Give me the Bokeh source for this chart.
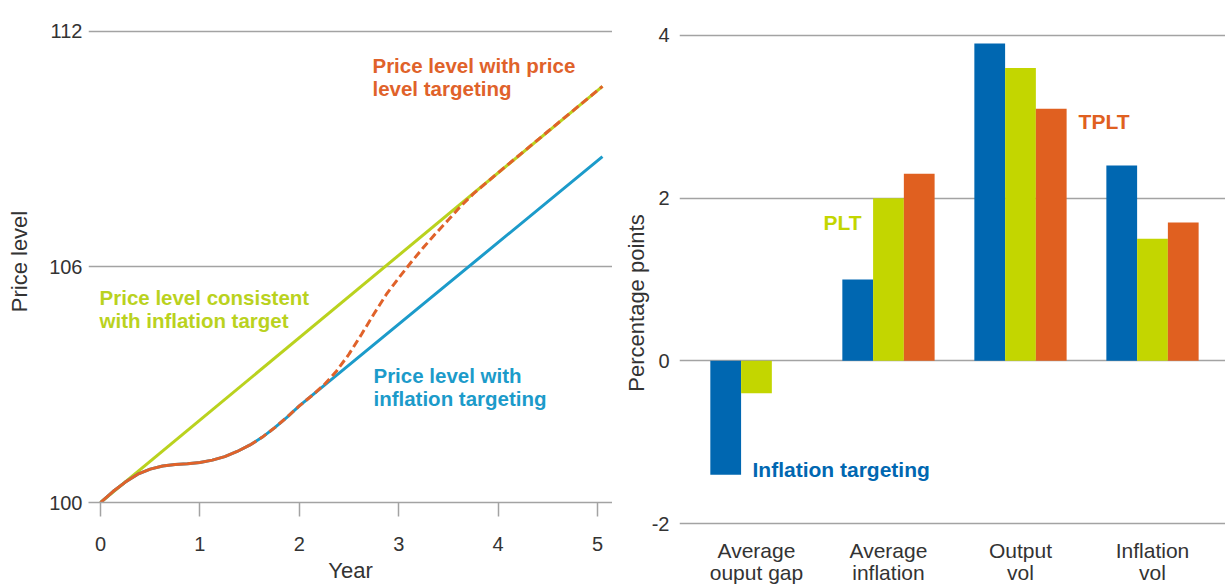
from bokeh.plotting import figure
from bokeh.layouts import row
from bokeh.models import FixedTicker, ColumnDataSource, Range1d
from bokeh.core.properties import value
from bokeh.embed import file_html
from bokeh.resources import INLINE

FONT = "Liberation Sans"

# ---------------- Left panel data ----------------
year_ticks = [0, 1, 2, 3, 4, 5]
price_ticks = [100, 106, 112]

# Price level consistent with inflation target
target_years = [0.0, 5.05]
target_price = [100.0, 110.6]

# Price level with inflation targeting
it_years = [0.0, 0.125, 0.25, 0.375, 0.5, 0.625, 0.75, 0.875, 1.0, 1.125, 1.25,
            1.375, 1.5, 1.625, 1.75, 1.875, 2.0, 5.05]
it_price = [100.0, 100.28, 100.52, 100.72, 100.85, 100.93, 100.97, 100.99, 101.02,
            101.08, 101.17, 101.3, 101.46, 101.66, 101.9, 102.17, 102.46, 108.81]

# Price level with price level targeting (solid part, then dashed part)
plt_years_solid = [0.0, 0.125, 0.25, 0.375, 0.5, 0.625, 0.75, 0.875, 1.0, 1.125, 1.25,
                   1.375, 1.5]
plt_price_solid = [100.0, 100.28, 100.52, 100.72, 100.85, 100.93, 100.97, 100.99, 101.02,
                   101.08, 101.17, 101.3, 101.46]
plt_years_dash = [1.5, 1.625, 1.75, 1.875, 2.0, 2.125, 2.25, 2.375, 2.5, 2.625, 2.75,
                  2.875, 3.0, 3.125, 3.25, 3.375, 3.5, 3.625, 3.75, 4.0, 4.5, 5.05]
plt_price_dash = [101.46, 101.66, 101.9, 102.17, 102.46, 102.72, 103.0, 103.35, 103.78,
                  104.28, 104.8, 105.3, 105.72, 106.12, 106.5, 106.86, 107.2, 107.55,
                  107.86, 108.4, 109.45, 110.6]

left_labels = ["Price level with price\nlevel targeting",
               "Price level consistent\nwith inflation target",
               "Price level with\ninflation targeting"]
left_label_x = [2.736, -0.01, 2.746]
left_label_y = [110.85, 104.92, 102.95]

# ---------------- Right panel data ----------------
categories = ["Average\nouput gap", "Average\ninflation", "Output\nvol", "Inflation\nvol"]
inflation_targeting = [-1.4, 1.0, 3.9, 2.4]
plt_values = [-0.4, 2.0, 3.6, 1.5]
tplt_values = [0.0, 2.3, 3.1, 1.7]
pp_ticks = [-2, 0, 2, 4]
pp_tick_labels = ["-2", "0", "2", "4"]

right_labels = ["Inflation targeting", "PLT", "TPLT"]
right_label_x = [-0.03, 0.508, 2.44]
right_label_y = [-1.34, 1.70, 2.94]

# ---------------- Styles ----------------
GRID = "#a3a3a3"
TXT = "#333333"
C_GREEN_LINE = "#bad21e"
C_BLUE_LINE = "#1c9bca"
C_ORANGE_LINE = "#e0622a"
C_BLUE_BAR = "#0067b1"
C_GREEN_BAR = "#c3d600"
C_ORANGE_BAR = "#e06020"


def style_common(p):
    p.outline_line_color = None
    p.background_fill_color = "white"
    p.border_fill_color = "white"
    p.frame_align = False
    for ax in (p.xaxis[0], p.yaxis[0]):
        ax.major_label_text_font = FONT
        ax.major_label_text_font_size = "20px"
        ax.major_label_text_color = TXT
        ax.axis_label_text_font = FONT
        ax.axis_label_text_font_size = "22px"
        ax.axis_label_text_font_style = "normal"
        ax.axis_label_text_color = TXT
        ax.minor_tick_line_color = None


# ---------------- Left figure ----------------
p1 = figure(width=612, height=585, output_backend="svg", toolbar_location=None,
            x_range=Range1d(-0.121, 5.151), y_range=Range1d(100, 112.278),
            min_border_left=88, min_border_right=0, min_border_top=20, min_border_bottom=80)
style_common(p1)
p1.xgrid.grid_line_color = None
p1.ygrid.ticker = FixedTicker(ticks=price_ticks)
p1.ygrid.grid_line_color = GRID
p1.ygrid.grid_line_width = 1.5

p1.xaxis.ticker = FixedTicker(ticks=year_ticks)
p1.xaxis.axis_label = "Year"
p1.xaxis.axis_line_color = GRID
p1.xaxis.axis_line_width = 1.5
p1.xaxis.major_tick_line_color = GRID
p1.xaxis.major_tick_line_width = 1.5
p1.xaxis.major_tick_out = 14
p1.xaxis.major_tick_in = 0
p1.xaxis.major_label_standoff = 20
p1.xaxis.axis_label_standoff = 4

p1.yaxis.ticker = FixedTicker(ticks=price_ticks)
p1.yaxis.axis_label = "Price level"
p1.yaxis.axis_line_color = None
p1.yaxis.major_tick_line_color = None
p1.yaxis.major_tick_out = 0
p1.yaxis.major_tick_in = 0
p1.yaxis.major_label_standoff = 6
p1.yaxis.axis_label_standoff = 14

p1.line(target_years, target_price, line_color=C_GREEN_LINE, line_width=3)
p1.line(it_years, it_price, line_color=C_BLUE_LINE, line_width=3)
p1.line(plt_years_solid, plt_price_solid, line_color=C_ORANGE_LINE, line_width=3)
p1.line(plt_years_dash, plt_price_dash, line_color=C_ORANGE_LINE, line_width=3,
        line_dash="8 4")

left_src = ColumnDataSource(dict(x=left_label_x, y=left_label_y, text=left_labels,
                                 color=[C_ORANGE_LINE, C_GREEN_LINE, C_BLUE_LINE]))
p1.text(x="x", y="y", text="text", source=left_src, text_color="color",
        text_font=value(FONT), text_font_style="bold", text_font_size="20.5px",
        text_align="left", text_baseline="middle", text_line_height=1.0)

# ---------------- Right figure ----------------
# the frame reaches the bottom of the page; category names are drawn in the frame
p2 = figure(width=613, height=585, output_backend="svg", toolbar_location=None,
            x_range=Range1d(-0.583, 3.553), y_range=Range1d(-2.762, 4.184),
            min_border_left=67, min_border_right=0, min_border_top=20, min_border_bottom=0)
style_common(p2)
p2.xgrid.grid_line_color = None
p2.ygrid.ticker = FixedTicker(ticks=pp_ticks)
p2.ygrid.grid_line_color = GRID
p2.ygrid.grid_line_width = 1.5
p2.xaxis.visible = False

p2.yaxis.ticker = FixedTicker(ticks=pp_ticks)
p2.yaxis.major_label_overrides = {t: s for t, s in zip(pp_ticks, pp_tick_labels)}
p2.yaxis.axis_label = "Percentage points"
p2.yaxis.axis_line_color = None
p2.yaxis.major_tick_line_color = None
p2.yaxis.major_tick_out = 0
p2.yaxis.major_tick_in = 0
p2.yaxis.major_label_standoff = 10
p2.yaxis.axis_label_standoff = 0

idx = list(range(len(categories)))
bw = 0.233
bar_src = ColumnDataSource(dict(
    x_it=[i - bw for i in idx], x_plt=[i for i in idx], x_tplt=[i + bw for i in idx],
    it=inflation_targeting, plt=plt_values, tplt=tplt_values))
p2.vbar(x="x_it", top="it", bottom=0, width=bw, source=bar_src,
        fill_color=C_BLUE_BAR, line_color=None)
p2.vbar(x="x_plt", top="plt", bottom=0, width=bw, source=bar_src,
        fill_color=C_GREEN_BAR, line_color=None)
p2.vbar(x="x_tplt", top="tplt", bottom=0, width=bw, source=bar_src,
        fill_color=C_ORANGE_BAR, line_color=None)

cat_src = ColumnDataSource(dict(x=idx, y=[-2.467] * len(idx), text=categories))
p2.text(x="x", y="y", text="text", source=cat_src, text_color=TXT,
        text_font=value(FONT), text_font_size="21px", text_align="center",
        text_baseline="middle", text_line_height=0.97)

right_src = ColumnDataSource(dict(x=right_label_x, y=right_label_y, text=right_labels,
                                  color=[C_BLUE_BAR, C_GREEN_BAR, C_ORANGE_BAR]))
p2.text(x="x", y="y", text="text", source=right_src, text_color="color",
        text_font=value(FONT), text_font_style="bold", text_font_size="21px",
        text_align="left", text_baseline="middle")

layout = row(p1, p2)
open("out.html", "w").write(file_html(layout, INLINE))
